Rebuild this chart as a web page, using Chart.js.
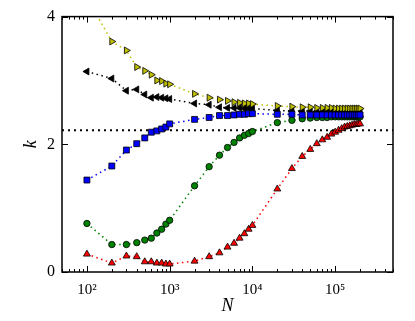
<!DOCTYPE html>
<html><head><meta charset="utf-8">
<script src="https://cdn.jsdelivr.net/npm/chart.js@4/dist/chart.umd.min.js"></script>
<style>html,body{margin:0;padding:0;background:#fff}#wrap{width:415px;height:321px}</style>
</head><body><div id="wrap"><canvas id="c" width="415" height="321"></canvas></div>
<script>
// ---- data ----
const N = [100,200,300,400,500,600,700,800,900,1000,
  2000,3000,4000,5000,6000,7000,8000,9000,10000,
  20000,30000,40000,50000,60000,70000,80000,90000,100000,
  110000,120000,130000,140000,150000,160000,170000,180000,190000,200000];
const kYellow = [4.3,3.61,3.47,3.21,3.15,3.09,3.00,2.99,2.95,2.94,
  2.79,2.73,2.70,2.68,2.66,2.65,2.64,2.64,2.63,
  2.60,2.59,2.58,2.58,2.57,2.57,2.57,2.57,2.56,
  2.56,2.56,2.56,2.56,2.56,2.56,2.56,2.56,2.56,2.56];
const kBlack = [3.14,3.03,2.84,2.86,2.78,2.73,2.74,2.73,2.72,2.71,
  2.64,2.62,2.58,2.57,2.57,2.57,2.56,2.56,2.56,
  2.53,2.52,2.52,2.52,2.51,2.51,2.51,2.51,2.51,
  2.51,2.51,2.51,2.51,2.51,2.51,2.51,2.51,2.51,2.51];
const kBlue = [1.44,1.66,1.91,2.01,2.10,2.19,2.21,2.24,2.27,2.32,
  2.39,2.42,2.45,2.45,2.46,2.47,2.47,2.48,2.48,
  2.47,2.47,2.46,2.46,2.46,2.46,2.46,2.46,2.46,
  2.46,2.46,2.46,2.46,2.46,2.46,2.46,2.46,2.46,2.46];
const kGreen = [0.76,0.43,0.43,0.46,0.50,0.53,0.61,0.67,0.75,0.81,
  1.35,1.65,1.83,1.95,2.03,2.10,2.14,2.17,2.20,
  2.34,2.375,2.40,2.41,2.42,2.42,2.42,2.43,2.43,
  2.43,2.43,2.43,2.43,2.43,2.43,2.43,2.43,2.43,2.43];
const kRed = [0.28,0.14,0.25,0.24,0.16,0.16,0.14,0.14,0.125,0.125,
  0.17,0.24,0.30,0.39,0.45,0.53,0.60,0.67,0.73,
  1.30,1.62,1.81,1.92,2.01,2.07,2.11,2.16,2.19,
  2.22,2.245,2.27,2.28,2.29,2.30,2.31,2.31,2.32,2.32];
const kRef = 2.22;
const xRange = [50, 500000];
const xMajorTicks = [100, 1000, 10000, 100000];
const xTickLabels = ['10\u00B2', '10\u00B3', '10\u2074', '10\u2075'];
const yTicks = [0, 2, 4];
const yTickLabels = ['0', '2', '4'];

// minor tick positions for the log axis
const xMinorTicks = [];
for (let d = 10; d <= 100000; d *= 10) for (let m = 2; m <= 9; m++) {
  const v = m * d; if (v >= xRange[0] && v <= xRange[1]) xMinorTicks.push(v);
}

const pts = arr => N.map((n, i) => ({x: n, y: arr[i]}));
function series(arr, color, style, rot, r, order) {
  return {
    data: pts(arr), showLine: true, borderColor: color, borderWidth: 1.5,
    borderDash: [1.5, 3.5], pointStyle: style, rotation: rot, pointRadius: r,
    pointBackgroundColor: color, pointBorderColor: '#000', pointBorderWidth: 0.8,
    order: order
  };
}

const framePlugin = {
  id: 'frame',
  afterDatasetsDraw(chart) {
    const {ctx, chartArea: a, scales: {x, y}} = chart;
    ctx.save();
    ctx.strokeStyle = '#000';
    ctx.lineWidth = 1;
    ctx.beginPath();
    const xt = (v, len) => {
      const px = Math.round(x.getPixelForValue(v)) + 0.5;
      ctx.moveTo(px, a.bottom); ctx.lineTo(px, a.bottom - len);
      ctx.moveTo(px, a.top); ctx.lineTo(px, a.top + len);
    };
    xMajorTicks.forEach(v => xt(v, 6));
    xMinorTicks.forEach(v => xt(v, 3));
    yTicks.forEach(v => {
      const py = Math.round(y.getPixelForValue(v)) + 0.5;
      ctx.moveTo(a.left, py); ctx.lineTo(a.left + 6, py);
      ctx.moveTo(a.right, py); ctx.lineTo(a.right - 6, py);
    });
    ctx.stroke();
    ctx.lineWidth = 1.5;
    ctx.strokeRect(a.left, a.top, a.right - a.left, a.bottom - a.top);
    ctx.restore();
  }
};

const serif = "'Liberation Serif', 'DejaVu Serif', serif";
new Chart(document.getElementById('c'), {
  type: 'scatter',
  data: {
    datasets: [
      {data: [{x: xRange[0], y: kRef}, {x: xRange[1], y: kRef}], showLine: true,
       borderColor: '#000', borderWidth: 2, borderDash: [2, 4], pointRadius: 0, order: 10},
      series(kRed, '#ff0000', 'triangle', 0, 4, 5),
      series(kGreen, '#008000', 'circle', 0, 3.2, 4),
      series(kBlack, '#000000', 'triangle', -90, 4, 3),
      series(kYellow, '#bfbf00', 'triangle', 90, 4, 2),
      series(kBlue, '#0000ff', 'rect', 0, 4.2, 1)
    ]
  },
  options: {
    responsive: false, animation: false, devicePixelRatio: 1,
    layout: {padding: {top: 16, right: 22, left: 0, bottom: 0}},
    plugins: {legend: {display: false}, tooltip: {enabled: false}},
    scales: {
      x: {
        type: 'logarithmic', min: xRange[0], max: xRange[1],
        afterBuildTicks: s => { s.ticks = xMajorTicks.map(v => ({value: v})); },
        afterFit: s => { s.height = 49; },
        grid: {display: false, drawTicks: false}, border: {display: false},
        ticks: {autoSkip: false, maxRotation: 0, padding: 9, color: '#000',
          font: {family: serif, size: 15},
          callback: (v, i) => xTickLabels[i]},
        title: {display: true, text: 'N', color: '#000',
          font: {family: serif, size: 18, style: 'italic'}, padding: {top: 0, bottom: 4}}
      },
      y: {
        min: 0, max: 4,
        afterBuildTicks: s => { s.ticks = yTicks.map(v => ({value: v})); },
        afterFit: s => { s.width = 62; },
        grid: {display: false, drawTicks: false}, border: {display: false},
        ticks: {padding: 7, color: '#000', font: {family: serif, size: 16},
          callback: (v, i) => yTickLabels[i]},
        title: {display: true, text: 'k', color: '#000',
          font: {family: serif, size: 18, style: 'italic'}, padding: {top: 20, bottom: 0}}
      }
    }
  },
  plugins: [framePlugin]
});
</script>
</body></html>
